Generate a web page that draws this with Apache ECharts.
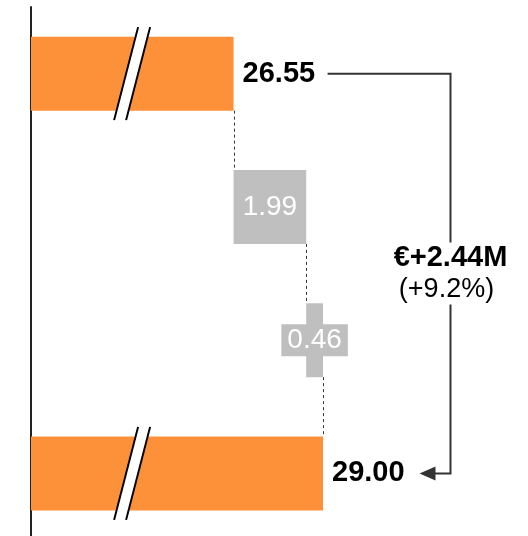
<!DOCTYPE html>
<html>
<head>
<meta charset="utf-8">
<script src="https://cdn.jsdelivr.net/npm/echarts@6/dist/echarts.min.js"></script>
<style>html,body{margin:0;padding:0;background:#fff}#c{width:528px;height:536px}</style>
</head>
<body>
<div id="c"></div>
<script>
// ---- data ----
const categories = ['Start', 'Step 1', 'Step 2', 'End'];
const startTotal = 26.55;
const endTotal = 29.00;
const deltas = [1.99, 0.46];
const changeText = '€+2.44M';
const changePct = '(+9.2%)';
const axisMin = 21;
const axisMax = 34;
const breakAt = 23.77;

// ---- derived waterfall values ----
const visible = [startTotal, deltas[0], deltas[1], endTotal];
const base = [0, startTotal, startTotal + deltas[0], 0];
const ends = [startTotal, startTotal + deltas[0], startTotal + deltas[0] + deltas[1], endTotal];

const ORANGE = '#FD9139';
const GREY = '#BFBFBF';
const FONT = 'Liberation Sans, Arial, sans-serif';

const chart = echarts.init(document.getElementById('c'), null, {renderer: 'canvas'});

const barData = visible.map((v, i) => {
  const isTotal = (i === 0 || i === 3);
  const item = {
    value: v,
    itemStyle: {color: isTotal ? ORANGE : GREY},
    label: isTotal ? {
      show: true, position: 'right', distance: 9,
      color: '#000', fontWeight: 'bold', fontSize: 29, fontFamily: FONT,
      formatter: p => p.value.toFixed(2)
    } : {
      show: true, position: 'inside',
      color: '#fff', fontSize: 28, fontFamily: FONT,
      formatter: p => p.value.toFixed(2)
    }
  };
  if (i === 2) {
    item.label.backgroundColor = GREY;
    item.label.padding = [2, 6, 2, 6];
  }
  return item;
});

const option = {
  animation: false,
  backgroundColor: '#fff',
  grid: {left: 31, width: 474.5, top: 7, height: 533, containLabel: false, outerBoundsMode: 'none'},
  xAxis: {
    type: 'value', min: axisMin, max: axisMax,
    show: false
  },
  yAxis: {
    type: 'category', data: categories, inverse: true,
    axisLine: {show: true, lineStyle: {color: '#222', width: 2}},
    axisTick: {show: false}, axisLabel: {show: false}, splitLine: {show: false}
  },
  series: [
    {
      type: 'bar', stack: 'wf', data: base, barWidth: 74,
      itemStyle: {color: 'transparent'}, silent: true
    },
    {
      type: 'bar', stack: 'wf', data: barData, barWidth: 74
    },
    // dashed connectors
    {
      type: 'custom', z: 5, clip: false,
      data: [0, 1, 2].map(i => [ends[i], i]),
      renderItem: (params, api) => {
        const v = api.value(0), i = api.value(1);
        const p0 = api.coord([v, i]);
        const p1 = api.coord([v, i + 1]);
        const h = 74 / 2;
        return {
          type: 'line',
          shape: {x1: Math.round(p0[0]) + 0.5, y1: p0[1] + h, x2: Math.round(p0[0]) + 0.5, y2: p1[1] - h},
          style: {stroke: '#333', lineWidth: 1, lineDash: [3, 3]}
        };
      }
    },
    // axis break marks
    {
      type: 'custom', z: 6, clip: false,
      data: [[breakAt, 0], [breakAt, 3]],
      renderItem: (params, api) => {
        const c = api.coord([api.value(0), api.value(1)]);
        const cx = c[0], cy = c[1];
        const hy = 46.5;
        return {
          type: 'group',
          children: [
            {type: 'polygon', shape: {points: [[cx + 6, cy - hy], [cx + 18, cy - hy], [cx - 6, cy + hy], [cx - 18, cy + hy]]},
             style: {fill: '#fff'}},
            {type: 'line', shape: {x1: cx + 6, y1: cy - hy, x2: cx - 18, y2: cy + hy}, style: {stroke: '#000', lineWidth: 2}},
            {type: 'line', shape: {x1: cx + 18, y1: cy - hy, x2: cx - 6, y2: cy + hy}, style: {stroke: '#000', lineWidth: 2}}
          ]
        };
      }
    },
    // change bracket
    {
      type: 'custom', z: 7, clip: false,
      data: [[startTotal, endTotal]],
      renderItem: (params, api) => {
        const a = api.coord([api.value(0), 0]);
        const b = api.coord([api.value(1), 3]);
        const bx = b[0] + 127.5;
        const y0 = a[1], y1 = b[1];
        const mid = (y0 + y1) / 2;
        const col = '#333';
        const tip = b[0] + 96.5;
        return {
          type: 'group',
          children: [
            {type: 'polyline', shape: {points: [[a[0] + 94, y0], [bx, y0], [bx, mid - 31]]}, style: {stroke: col, lineWidth: 2, fill: null}},
            {type: 'polyline', shape: {points: [[bx, mid + 31], [bx, y1], [tip + 12, y1]]}, style: {stroke: col, lineWidth: 2, fill: null}},
            {type: 'polygon', shape: {points: [[tip, y1], [tip + 16, y1 - 7], [tip + 16, y1 + 7]]}, style: {fill: col}},
            {type: 'text', style: {text: changeText, x: bx, y: mid - 15.5, align: 'center', verticalAlign: 'middle',
              fill: '#000', font: 'bold 29px ' + FONT}},
            {type: 'text', style: {text: changePct, x: bx - 4, y: mid + 16, align: 'center', verticalAlign: 'middle',
              fill: '#000', font: '27px ' + FONT}}
          ]
        };
      }
    }
  ]
};
chart.setOption(option);
</script>
</body>
</html>
